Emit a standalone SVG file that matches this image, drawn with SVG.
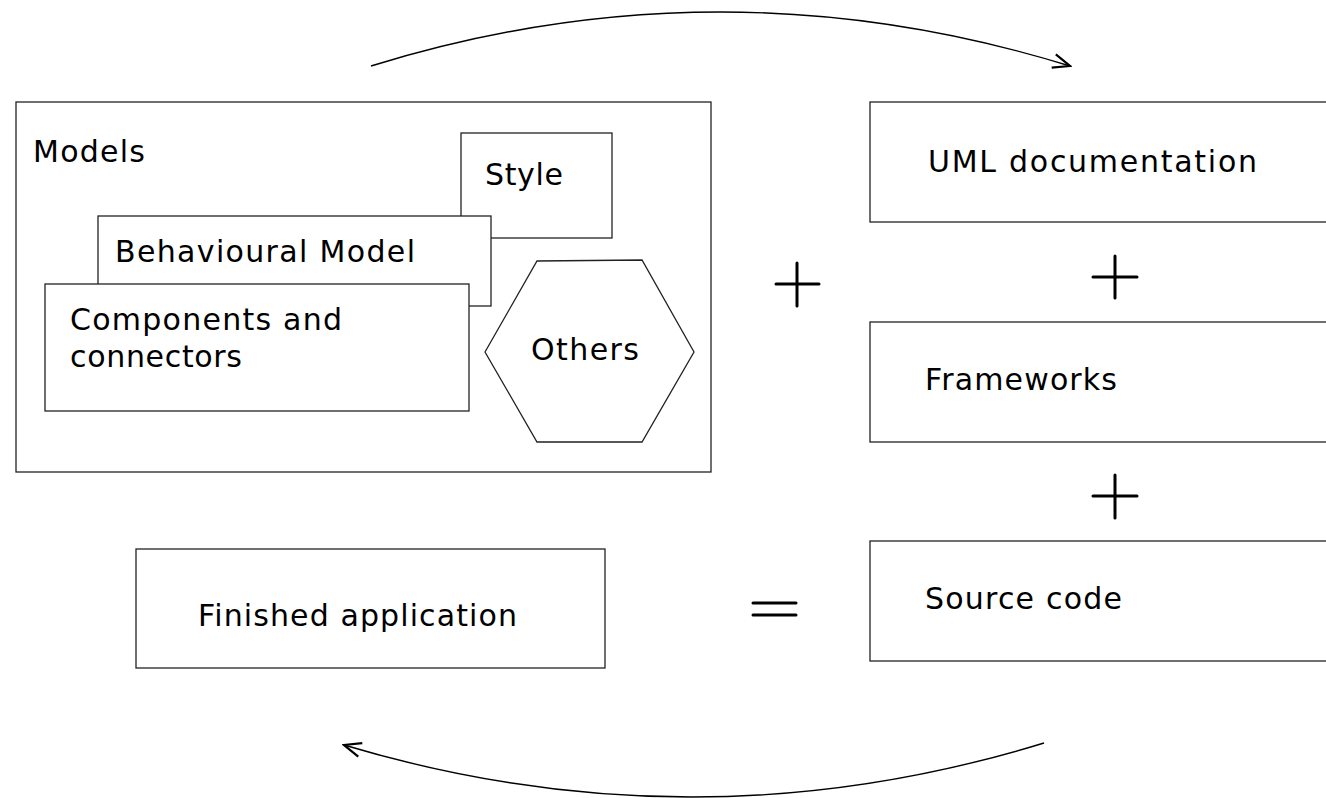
<svg xmlns="http://www.w3.org/2000/svg" width="1326" height="798" viewBox="0 0 1326 798">
<style>
.box{fill:#fff;stroke:#222;stroke-width:1.3}
.t{font-family:"DejaVu Sans","Liberation Sans",sans-serif;font-size:30px;fill:#000}
.sym{stroke:#000;stroke-width:3;stroke-linecap:round;fill:none}
.arc{fill:none;stroke:#000;stroke-width:1.4}
</style>
<defs>
<marker id="open" viewBox="0 0 22 22" refX="20" refY="11" markerWidth="22" markerHeight="22" markerUnits="userSpaceOnUse" orient="auto">
<path d="M3,4 L20,11 L3,18" fill="none" stroke="#000" stroke-width="2.2"/>
</marker>
</defs>
<rect width="1326" height="798" fill="#fff"/>
<g id="models">
<rect class="box" x="16" y="102" width="695" height="370"/>
<text class="t" x="33" y="162" textLength="112" lengthAdjust="spacing">Models</text>
</g>
<g id="style">
<rect class="box" x="461" y="133" width="151" height="105"/>
<text class="t" x="485" y="185" textLength="78" lengthAdjust="spacing">Style</text>
</g>
<g id="behavioural">
<rect class="box" x="98" y="216" width="393" height="90"/>
<text class="t" x="115" y="262" textLength="300" lengthAdjust="spacing">Behavioural Model</text>
</g>
<g id="components">
<rect class="box" x="45" y="284" width="424" height="127"/>
<text class="t" x="70" y="330" textLength="272" lengthAdjust="spacing">Components and</text>
<text class="t" x="70" y="367" textLength="172" lengthAdjust="spacing">connectors</text>
</g>
<g id="others">
<polygon class="box" points="485,352 537,261 642,260 694,352 642,442 537,442"/>
<text class="t" x="531" y="360" textLength="108" lengthAdjust="spacing">Others</text>
</g>
<g id="uml">
<rect class="box" x="870" y="102" width="470" height="120"/>
<text class="t" x="928" y="172" textLength="329" lengthAdjust="spacing">UML documentation</text>
</g>
<g id="frameworks">
<rect class="box" x="870" y="322" width="470" height="120"/>
<text class="t" x="925" y="390" textLength="192" lengthAdjust="spacing">Frameworks</text>
</g>
<g id="source">
<rect class="box" x="870" y="541" width="470" height="120"/>
<text class="t" x="925" y="609" textLength="197" lengthAdjust="spacing">Source code</text>
</g>
<g id="finished">
<rect class="box" x="136" y="549" width="469" height="119"/>
<text class="t" x="198" y="626" textLength="319" lengthAdjust="spacing">Finished application</text>
</g>
<g id="operators">
<path class="sym" d="M776,284 H819 M797,263 V306"/>
<path class="sym" d="M1093,277 H1137 M1115,256 V298"/>
<path class="sym" d="M1093,496 H1137 M1115,475 V518"/>
<path class="sym" d="M753,603 H796 M753,615 H796"/>
</g>
<g id="connectors">
<path class="arc" d="M371,66 Q720,-42 1070,66" marker-end="url(#open)"/>
<path class="arc" d="M1044,743 Q695,850 344,745" marker-end="url(#open)"/>
</g>
</svg>
